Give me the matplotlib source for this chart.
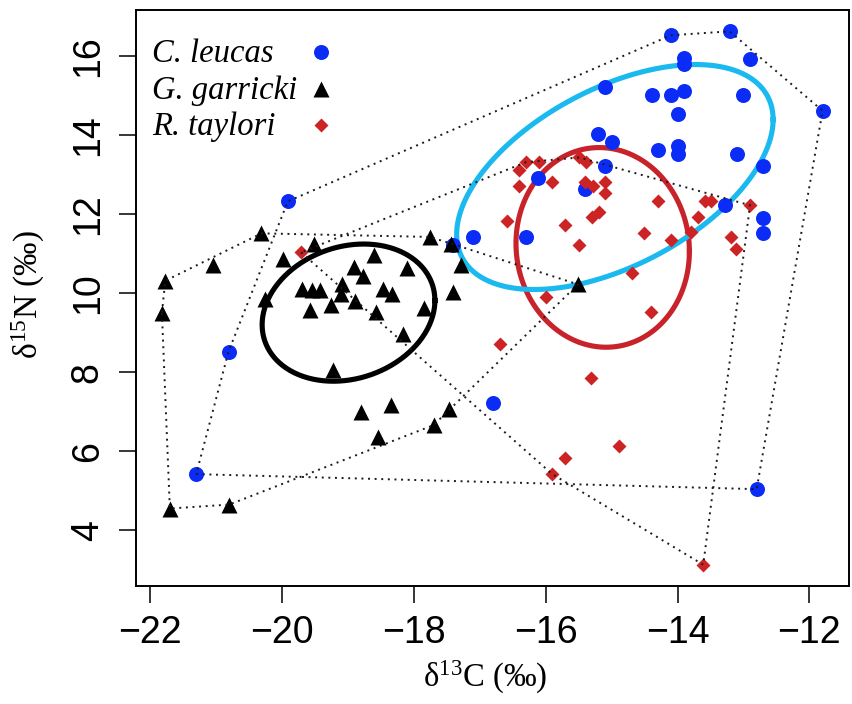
import numpy as np
import matplotlib
matplotlib.use('Agg')
from matplotlib import pyplot as plt

plt.rcParams['mathtext.fontset'] = 'custom'
plt.rcParams['mathtext.rm'] = 'Liberation Serif'
plt.rcParams['mathtext.it'] = 'Liberation Serif:italic'

# C. leucas (beluga)
leucas_c = [-14.10, -13.21, -12.90, -13.90, -13.90, -15.10, -14.39, -14.10, -13.90, -13.00, -11.80,
            -13.99, -15.21, -15.00, -14.30, -13.99, -13.99, -13.10, -15.10, -12.71, -16.11, -15.40,
            -13.28, -12.71, -12.71, -17.10, -16.30, -17.41, -19.91, -20.81, -16.80, -21.30, -12.80]
leucas_n = [16.52, 16.62, 15.91, 15.94, 15.80, 15.21, 15.02, 15.02, 15.10, 15.02, 14.61,
            14.52, 14.03, 13.83, 13.62, 13.73, 13.52, 13.52, 13.21, 13.21, 12.92, 12.63,
            12.22, 11.91, 11.52, 11.42, 11.42, 11.22, 12.32, 8.52, 7.22, 5.42, 5.04]

# G. garricki
garricki_c = [-20.31, -21.04, -21.77, -21.82, -21.70, -20.80, -19.51, -19.98, -20.26, -17.76, -17.43,
              -17.28, -17.41, -17.85, -15.51, -18.61, -18.10, -18.90, -18.77, -19.69, -19.54, -19.42,
              -19.09, -19.10, -18.47, -18.33, -19.58, -19.25, -18.89, -18.57, -18.17, -19.22, -18.80,
              -18.34, -17.46, -17.70, -18.54]
garricki_n = [11.51, 10.70, 10.31, 9.49, 4.55, 4.65, 11.24, 10.86, 9.85, 11.42, 11.25,
              10.72, 10.03, 9.61, 10.22, 10.96, 10.64, 10.65, 10.44, 10.11, 10.07, 10.08,
              10.23, 9.98, 10.11, 9.98, 9.56, 9.69, 9.80, 9.52, 8.97, 8.06, 6.99,
              7.18, 7.08, 6.66, 6.35]

# R. taylori
taylori_c = [-16.30, -16.10, -16.40, -16.40, -15.90, -15.49, -15.39, -15.41, -15.28, -15.10, -15.10,
             -14.30, -13.59, -13.49, -13.69, -16.59, -15.70, -15.29, -15.19, -14.51, -15.49, -14.10,
             -13.79, -13.19, -13.11, -14.69, -16.00, -14.40, -16.70, -15.31, -14.89, -15.71, -15.90,
             -13.61, -19.71, -12.90]
taylori_n = [13.31, 13.31, 13.11, 12.72, 12.80, 13.43, 13.31, 12.80, 12.72, 12.82, 12.52,
             12.32, 12.32, 12.32, 11.92, 11.82, 11.72, 11.93, 12.04, 11.51, 11.22, 11.35,
             11.54, 11.41, 11.12, 10.50, 9.91, 9.52, 8.72, 7.84, 6.13, 5.84, 5.42,
             3.13, 11.03, 12.22]

# standard ellipses: centre (C, N), sd C, sd N, correlation
ell_leucas = [-14.95, 12.935, 2.40, 2.845, 0.51]
ell_garricki = [-18.99, 9.505, 1.31, 1.735, 0.176]
ell_taylori = [-15.135, 11.155, 1.315, 2.525, -0.04]

species = ['C. leucas', 'G. garricki', 'R. taylori']


def hull(xs, ys):
    pts = sorted(set(zip(xs, ys)))

    def cross(o, a, b):
        return (a[0] - o[0]) * (b[1] - o[1]) - (a[1] - o[1]) * (b[0] - o[0])
    lower, upper = [], []
    for p in pts:
        while len(lower) >= 2 and cross(lower[-2], lower[-1], p) <= 0:
            lower.pop()
        lower.append(p)
    for p in reversed(pts):
        while len(upper) >= 2 and cross(upper[-2], upper[-1], p) <= 0:
            upper.pop()
        upper.append(p)
    h = lower[:-1] + upper[:-1]
    h.append(h[0])
    return [p[0] for p in h], [p[1] for p in h]


def ellipse(e):
    t = np.linspace(0, 2 * np.pi, 300)
    cx, cy, sx, sy, r = e
    x = cx + sx * np.cos(t)
    y = cy + sy * (r * np.cos(t) + np.sqrt(1 - r ** 2) * np.sin(t))
    return x, y


fig = plt.figure(figsize=(8.52, 7.04), dpi=100)
ax = fig.add_axes([135.5 / 852, 118 / 704, 713.5 / 852, 576 / 704])

blue = '#0b2cf7'
red = '#cc2424'

# ellipses
for e, col in [(ell_garricki, 'black'), (ell_taylori, '#c8232a'), (ell_leucas, '#1ab9ef')]:
    ex, ey = ellipse(e)
    ax.plot(ex, ey, color=col, lw=3.7, zorder=2)

# points
ax.plot(leucas_c, leucas_n, 'o', color=blue, ms=10.8, mec='none', zorder=3)
ax.plot(garricki_c, garricki_n, '^', color='black', ms=11.5, mec='none', zorder=3)
ax.plot(taylori_c, taylori_n, 'D', color=red, ms=6.8, mec='none', zorder=3)

# convex hulls
for xs, ys in [(leucas_c, leucas_n), (garricki_c, garricki_n), (taylori_c, taylori_n)]:
    hx, hy = hull(xs, ys)
    ax.plot(hx, hy, color='#1a1a1a', lw=1.4, ls=(0, (1, 2.4)), zorder=4)

# R-style 4% padding
allc = leucas_c + garricki_c + taylori_c
alln = leucas_n + garricki_n + taylori_n
rc = max(allc) - min(allc)
rn = max(alln) - min(alln)
ax.set_xlim(min(allc) - 0.04 * rc, max(allc) + 0.04 * rc)
ax.set_ylim(min(alln) - 0.04 * rn, max(alln) + 0.04 * rn)

ax.set_xticks([-22, -20, -18, -16, -14, -12])
ax.set_yticks([4, 6, 8, 10, 12, 14, 16])
ax.tick_params(direction='out', length=12, width=1.1, labelsize=27)
ax.tick_params(axis='x', pad=9)
ax.tick_params(axis='y', pad=9.4, labelrotation=90)
for lab in ax.get_xticklabels() + ax.get_yticklabels():
    lab.set_family('Liberation Sans')
for lab in ax.get_yticklabels():
    lab.set_va('center')
for s in ax.spines.values():
    s.set_linewidth(1.4)

ax.set_xlabel('δ$^{13}$C (‰)', fontsize=23.5, family='Liberation Serif')
ax.set_ylabel('δ$^{15}$N (‰)', fontsize=24, family='Liberation Serif')
ax.xaxis.label.set_va('baseline')
ax.yaxis.label.set_va('baseline')
ax.xaxis.set_label_coords(0.49, -0.175)
ax.yaxis.set_label_coords(-0.1366, 0.505)

# legend, R style: text then marker column
leg_y = [0.9097, 0.8455, 0.783]
leg_style = [dict(marker='o', color=blue, ms=10.8), dict(marker='^', color='black', ms=11.5),
             dict(marker='D', color=red, ms=6.8)]
for name, y, st in zip(species, leg_y, leg_style):
    ax.text(0.0227, y, name, transform=ax.transAxes, fontsize=23.5, family='Liberation Serif',
            style='italic', va='baseline', ha='left')
    ax.plot([0.26], [y + 0.0174], transform=ax.transAxes, ls='none', mec='none', clip_on=False, **st)

fig.savefig('out.png', dpi=100)
